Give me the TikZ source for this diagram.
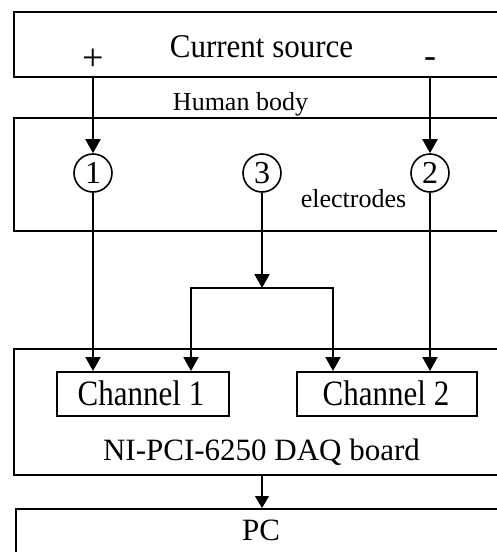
\documentclass[tikz,border=0pt]{standalone}
\usepackage{fontspec}
\setmainfont{Liberation Serif}
\usetikzlibrary{arrows.meta}
\begin{document}
\begin{tikzpicture}[x=1pt,y=-1pt,
  box/.style={draw, rectangle, line width=2pt, inner sep=0pt, anchor=north west},
  big/.style={font=\fontsize{31}{36}\selectfont},
  small/.style={font=\fontsize{26}{30}\selectfont},
  lbl/.style={inner sep=0pt, anchor=base},
  electrode/.style={draw, circle, line width=1.6pt, minimum size=38pt, inner sep=0pt,
    font=\fontsize{32}{36}\selectfont},
  tip/.tip={Triangle[width=15pt,length=14pt]},
  conn/.style={line width=2pt, -tip},
  thinconn/.style={line width=1.3pt, -{Triangle[width=14pt,length=12pt]}}]
\useasboundingbox (0,0) rectangle (496,552);

% outer blocks
\node[box, minimum width=497pt, minimum height=65pt]  (src)  at (13,11)  {};
\node[box, minimum width=497pt, minimum height=113pt] (body) at (13,117) {};
\node[box, minimum width=497pt, minimum height=126pt] (daq)  at (13,348) {};
\node[box, minimum width=495pt, minimum height=60pt]  (pc)   at (15,508) {};

% inputs of the DAQ board
\node[box, minimum width=172pt, minimum height=44pt] (ch1) at (56,371)  {};
\node[box, minimum width=180pt, minimum height=44pt] (ch2) at (296,371) {};

% labels
\node[lbl, big]   (tsrc)  at (261.5,57)  {\scalebox{1}[1.07]{Current source}};
\node[lbl, font=\fontsize{38}{40}\selectfont] (tplus) at (93,70) {+};
\node[lbl, font=\fontsize{36}{40}\selectfont] (tminus) at (430,67) {-};
\node[lbl, small] (tbody) at (240.5,110) {Human body};
\node[lbl, small] (telec) at (353.5,207) {electrodes};
\node[lbl, big]   (tch1)  at (141,405)   {\scalebox{1}[1.15]{Channel 1}};
\node[lbl, big]   (tch2)  at (386,405)   {\scalebox{1}[1.15]{Channel 2}};
\node[lbl, big]   (tdaq)  at (261.5,460) {NI-PCI-6250 DAQ board};
\node[lbl, big]   (tpc)   at (261,540)   {PC};

% electrodes
\node[electrode] (e1) at (93,173)  {1};
\node[electrode] (e3) at (262,173) {3};
\node[electrode] (e2) at (430,173) {2};

% current injection
\draw[conn] (e1 |- src.south) -- (e1.north);
\draw[conn] (e2 |- src.south) -- (e2.north);

% measured signals
\draw[conn] (e1.south) -- (e1 |- ch1.north);
\draw[conn] (e2.south) -- (e2 |- ch2.north);

% reference electrode to both channels
\coordinate (j)  at (262,288);
\coordinate (jl) at (191,288);
\coordinate (jr) at (333,288);
\draw[conn] (e3.south) -- (j);
\draw[line width=2pt, tip-tip, line join=miter] (jl |- ch1.north) -- (jl) -- (jr) -- (jr |- ch2.north);

% data to the computer
\draw[thinconn] (e3 |- daq.south) -- (e3 |- pc.north);
\end{tikzpicture}
\end{document}
